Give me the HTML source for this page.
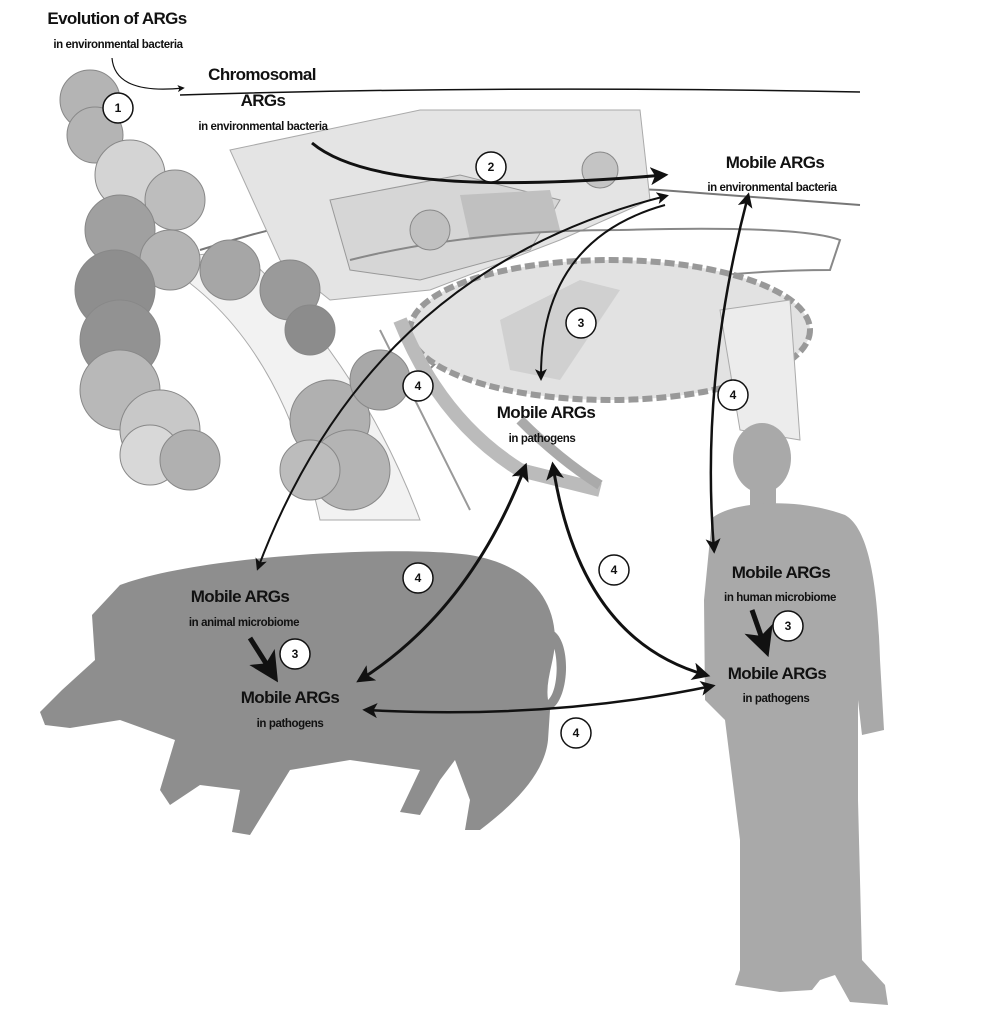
<!DOCTYPE html>
<html><head><style>
html,body{margin:0;padding:0;background:#fff;}
svg{display:block;font-family:"Liberation Sans",sans-serif;}
.t{font-weight:bold;font-size:17px;fill:#111;text-anchor:middle;letter-spacing:-0.6px}
.s{font-weight:bold;font-size:11.5px;fill:#111;text-anchor:middle;letter-spacing:-0.4px}
.n{font-weight:bold;font-size:12px;text-anchor:middle;fill:#111}
.a{fill:none;stroke:#111;}
</style></head><body>
<svg width="994" height="1023" viewBox="0 0 994 1023" xmlns="http://www.w3.org/2000/svg">
<defs>
<marker id="m" markerWidth="6" markerHeight="6" refX="4.5" refY="3" orient="auto-start-reverse" markerUnits="strokeWidth"><path d="M0,0 L6,3 L0,6 L1.5,3 z" fill="#111"/></marker>
</defs>
<g>
<path d="M180,95 Q500,85 860,92" class="a" stroke="#999" stroke-width="1.5"/>
<path d="M200,250 Q420,180 660,190 L860,205" fill="none" stroke="#777" stroke-width="2"/>
<polygon points="230,150 420,110 640,110 650,200 560,240 430,290 330,300 280,260" fill="#e4e4e4" stroke="#aaa"/>
<polygon points="330,200 460,175 560,200 530,250 420,280 350,270" fill="#d6d6d6" stroke="#999"/>
<polygon points="460,195 550,190 560,230 470,240" fill="#c0c0c0"/>
<path d="M350,260 Q470,230 620,230 Q800,225 840,240 L830,270 Q700,270 560,300 Q460,330 420,380" fill="none" stroke="#888" stroke-width="2"/>
<ellipse cx="610" cy="330" rx="200" ry="70" fill="#e2e2e2" stroke="#999" stroke-width="6" stroke-dasharray="10 4"/>
<polygon points="500,320 580,280 620,290 560,380 510,370" fill="#d0d0d0"/>
<polygon points="720,310 790,300 800,440 740,430" fill="#ececec" stroke="#aaa"/>
<path d="M400,320 Q440,420 520,470 L600,490" fill="none" stroke="#bbb" stroke-width="14"/>
<path d="M520,420 Q560,460 600,485" fill="none" stroke="#aaa" stroke-width="10"/>
<path d="M380,330 L470,510" fill="none" stroke="#999" stroke-width="2"/>
<path d="M155,260 Q280,330 320,520 L420,520 Q360,360 240,250 Z" fill="#f2f2f2" stroke="#aaa"/>
<g fill="#b4b4b4" stroke="#888">
<circle cx="90" cy="100" r="30"/><circle cx="95" cy="135" r="28"/>
<circle cx="130" cy="175" r="35" fill="#d4d4d4"/><circle cx="175" cy="200" r="30" fill="#bdbdbd"/>
<circle cx="120" cy="230" r="35" fill="#a0a0a0"/><circle cx="170" cy="260" r="30"/>
<circle cx="115" cy="290" r="40" fill="#8e8e8e"/><circle cx="120" cy="340" r="40" fill="#929292"/>
<circle cx="120" cy="390" r="40" fill="#b8b8b8"/><circle cx="160" cy="430" r="40" fill="#c8c8c8"/>
<circle cx="150" cy="455" r="30" fill="#d8d8d8"/><circle cx="190" cy="460" r="30" fill="#b0b0b0"/>
<circle cx="230" cy="270" r="30" fill="#a6a6a6"/><circle cx="290" cy="290" r="30" fill="#9a9a9a"/>
<circle cx="330" cy="420" r="40" fill="#b0b0b0"/><circle cx="350" cy="470" r="40" fill="#b4b4b4"/>
<circle cx="310" cy="470" r="30" fill="#bcbcbc"/><circle cx="380" cy="380" r="30" fill="#a8a8a8"/>
<circle cx="310" cy="330" r="25" fill="#8c8c8c"/>
<circle cx="430" cy="230" r="20" fill="#c0c0c0"/><circle cx="600" cy="170" r="18" fill="#c4c4c4"/>
</g>
</g>
<path d="M40,712 L62,690 L95,660 L92,615 L120,585 C200,555 400,545 470,555 C530,565 555,600 555,640 C555,660 545,680 548,700 C560,690 560,640 545,635 L552,630 C572,640 570,700 550,710 L548,740 C545,770 520,800 480,830 L465,830 L470,800 L455,760 L440,780 L420,815 L400,812 L420,770 L350,760 L290,770 L250,835 L232,832 L240,790 L200,785 L170,805 L160,790 L175,740 L120,720 L70,728 L45,725 Z" fill="#8e8e8e"/>
<g fill="#a9a9a9">
<ellipse cx="762" cy="458" rx="29" ry="35"/>
<rect x="750" y="480" width="26" height="30"/>
<path d="M712,518 C735,500 800,498 845,515 C872,530 878,600 880,660 L884,730 L862,735 L858,700 L858,800 L862,960 L885,985 L888,1005 L850,1002 L835,975 L820,980 L812,990 L780,992 L735,985 L740,970 L740,840 L725,720 L705,700 L704,600 Z"/>
</g>
<path d="M112,58 Q115,95 183,88" class="a" stroke-width="1.2" marker-end="url(#m)"/>
<path d="M312,143 Q380,200 664,175" class="a" stroke-width="3" marker-end="url(#m)"/>
<path d="M666,196 Q370,270 258,568" class="a" stroke-width="2" marker-start="url(#m)" marker-end="url(#m)"/>
<path d="M665,205 Q540,240 541,378" class="a" stroke-width="2" marker-end="url(#m)"/>
<path d="M748,196 Q700,380 714,550" class="a" stroke-width="2.5" marker-start="url(#m)" marker-end="url(#m)"/>
<path d="M525,467 Q470,610 360,680" class="a" stroke-width="3" marker-start="url(#m)" marker-end="url(#m)"/>
<path d="M553,466 Q580,640 706,675" class="a" stroke-width="3" marker-start="url(#m)" marker-end="url(#m)"/>
<path d="M366,710 Q550,720 712,686" class="a" stroke-width="2.5" marker-start="url(#m)" marker-end="url(#m)"/>
<path d="M250,638 L274,676" class="a" stroke-width="5" marker-end="url(#m)"/>
<path d="M752,610 L766,650" class="a" stroke-width="5" marker-end="url(#m)"/>
<g fill="#fff" stroke="#111" stroke-width="1.5">
<circle cx="118" cy="108" r="15"/><circle cx="491" cy="167" r="15"/><circle cx="581" cy="323" r="15"/>
<circle cx="418" cy="386" r="15"/><circle cx="733" cy="395" r="15"/><circle cx="418" cy="578" r="15"/>
<circle cx="614" cy="570" r="15"/><circle cx="295" cy="654" r="15"/><circle cx="788" cy="626" r="15"/>
<circle cx="576" cy="733" r="15"/>
</g>
<g class="n">
<text x="118" y="112">1</text><text x="491" y="171">2</text><text x="581" y="327">3</text>
<text x="418" y="390">4</text><text x="733" y="399">4</text><text x="418" y="582">4</text>
<text x="614" y="574">4</text><text x="295" y="658">3</text><text x="788" y="630">3</text>
<text x="576" y="737">4</text>
</g>
<text class="t" x="117" y="24">Evolution of ARGs</text>
<text class="s" x="118" y="48">in environmental bacteria</text>
<text class="t" x="262" y="80">Chromosomal</text>
<text class="t" x="263" y="106">ARGs</text>
<text class="s" x="263" y="130">in environmental bacteria</text>
<text class="t" x="775" y="168">Mobile ARGs</text>
<text class="s" x="772" y="191">in environmental bacteria</text>
<text class="t" x="546" y="418">Mobile ARGs</text>
<text class="s" x="542" y="442">in pathogens</text>
<text class="t" x="240" y="602">Mobile ARGs</text>
<text class="s" x="244" y="626">in animal microbiome</text>
<text class="t" x="290" y="703">Mobile ARGs</text>
<text class="s" x="290" y="727">in pathogens</text>
<text class="t" x="781" y="578">Mobile ARGs</text>
<text class="s" x="780" y="601">in human microbiome</text>
<text class="t" x="777" y="679">Mobile ARGs</text>
<text class="s" x="776" y="702">in pathogens</text>
</svg>
</body></html>
